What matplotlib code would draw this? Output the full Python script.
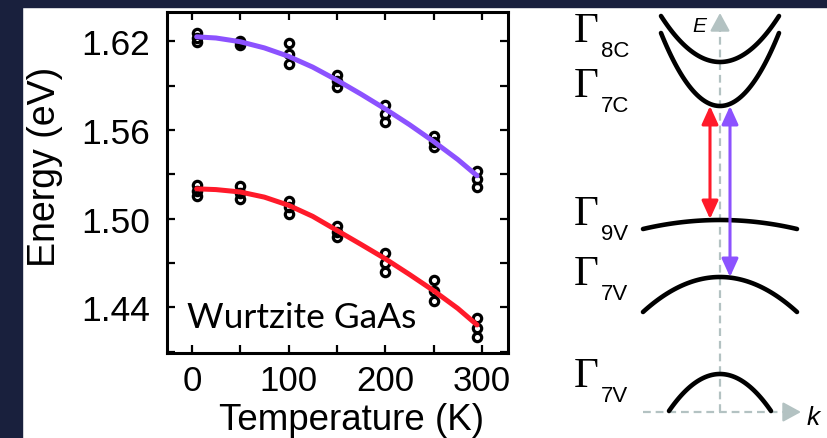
import numpy as np
import matplotlib
matplotlib.use("Agg")
import matplotlib.pyplot as plt
from matplotlib.patches import Rectangle, FancyArrowPatch
from matplotlib.ticker import MultipleLocator

plt.rcParams.update({"font.family": "Liberation Sans"})

# measured points: three runs at each temperature
temperature = [5, 50, 100, 150, 200, 250, 295]
upper_runs = [
    [1.6253, 1.6205, 1.6185, 1.5969, 1.5766, 1.5556, 1.5319],
    [1.6222, 1.6192, 1.6114, 1.5928, 1.5708, 1.5519, 1.5265],
    [1.6192, 1.6178, 1.6043, 1.5888, 1.5651, 1.5482, 1.5211],
]
lower_runs = [
    [1.5225, 1.5218, 1.5116, 1.4947, 1.4764, 1.4582, 1.4325],
    [1.5188, 1.5170, 1.5075, 1.4910, 1.4700, 1.4510, 1.4260],
    [1.5150, 1.5130, 1.5028, 1.4873, 1.4636, 1.4440, 1.4196],
]

# fitted curves
fit_temperature = [5, 25, 50, 75, 100, 125, 150, 175, 200, 225, 250, 275, 295]
upper_fit = [1.6230, 1.6222, 1.6197, 1.6155, 1.6098, 1.6025, 1.5937,
             1.5842, 1.5742, 1.5636, 1.5522, 1.5400, 1.5290]
lower_fit = [1.5201, 1.5196, 1.5180, 1.5145, 1.5090, 1.5015, 1.4920,
             1.4825, 1.4728, 1.4622, 1.4512, 1.4392, 1.4280]

# band schematic (pixel units): label, apex, half width, bend (+ up-opening)
band_names = ["8C", "7C", "9V", "7V", "7V"]
band_apex = [63, 107, 221, 278, 375]
band_half_width = [59, 59, 77, 77, 51]
band_bend = [46, 73, -9, -35, -37]
label_baseline = [42, 97, 225, 285, 387]

NAVY = "#19203d"
PURPLE = "#8c52ff"
RED = "#ff1a2a"
GREY = "#b3c2c2"

W, H = 828, 439
fig = plt.figure(figsize=(W / 100, H / 100), dpi=100)
fig.patch.set_facecolor("white")
fig.add_artist(Rectangle((0, 0), 22 / W, 1, transform=fig.transFigure,
                         color=NAVY, zorder=-5))
fig.add_artist(Rectangle((0, 1 - 8 / H), 1, 8 / H, transform=fig.transFigure,
                         color=NAVY, zorder=-5))

# --- left panel -------------------------------------------------------------
ax = fig.add_axes([166.7 / W, 1 - 354 / H, 341.3 / W, 341.3 / H])
for run in upper_runs + lower_runs:
    ax.plot(temperature, run, "o", ms=6, mfc="none", mec="black",
            mew=2.3, zorder=2)
ax.plot(fit_temperature, upper_fit, color=PURPLE, lw=3.6,
        solid_capstyle="round", zorder=3)
ax.plot(fit_temperature, lower_fit, color=RED, lw=3.6,
        solid_capstyle="round", zorder=3)

ax.set_xlim(-26, 327)
ax.set_ylim(1.409, 1.640)
ax.xaxis.set_major_locator(MultipleLocator(100))
ax.xaxis.set_minor_locator(MultipleLocator(50))
ax.yaxis.set_major_locator(MultipleLocator(0.06))
ax.yaxis.set_minor_locator(MultipleLocator(0.03))
ax.yaxis.set_major_formatter(plt.FormatStrFormatter("%.2f"))
ax.tick_params(which="both", direction="in", top=True, right=True,
               length=6, width=1.6)
ax.tick_params(axis="x", labelsize=25, pad=8)
ax.tick_params(axis="y", labelsize=25.5, pad=12)
for s in ax.spines.values():
    s.set_linewidth(2.2)

ax.text(0.06, 0.076, "Wurtzite GaAs", transform=ax.transAxes,
        fontsize=25.5, family="Lato", va="baseline", ha="left")
fig.text(45 / W, 1 - 167 / H, "Energy (eV)", rotation=90, fontsize=27,
         ha="center", va="center")
fig.text(352 / W, 1 - 430 / H, "Temperature (K)", fontsize=26.5,
         ha="center", va="baseline")

# --- right panel: band diagram ---------------------------------------------
bx = fig.add_axes([540 / W, 0, 288 / W, 1])
bx.set_xlim(540, 828)
bx.set_ylim(H, 0)
bx.axis("off")

xc = 720
# dashed E and k axes
bx.plot([xc, xc], [413, 28], color=GREY, lw=1.6, ls=(0, (3.5, 2.2)), zorder=1)
bx.add_patch(FancyArrowPatch((xc, 30), (xc, 14), arrowstyle="-|>,head_length=0.55,head_width=0.3",
                             mutation_scale=20, color=GREY, lw=1.6,
                             shrinkA=0, shrinkB=0, zorder=1))
bx.plot([643, 786], [413, 413], color=GREY, lw=1.6, ls=(0, (3.5, 2.2)), zorder=1)
bx.add_patch(FancyArrowPatch((784, 413), (801, 413), arrowstyle="-|>,head_length=0.55,head_width=0.3",
                             mutation_scale=20, color=GREY, lw=1.6,
                             shrinkA=0, shrinkB=0, zorder=1))
bx.text(692, 32, "E", fontsize=15, style="italic", va="baseline", ha="left")
bx.text(807, 425, "k", fontsize=19, style="italic", va="baseline", ha="left")

for name, apex, hw, bend, base in zip(band_names, band_apex, band_half_width,
                                      band_bend, label_baseline):
    kx = np.linspace(-1, 1, 60)
    bx.plot(xc + hw * kx, apex - bend * kx ** 2, color="black", lw=3.3,
            solid_capstyle="round", zorder=3)
    bx.text(574, base, "Γ", fontsize=31, family="Liberation Serif",
            va="baseline", ha="left")
    bx.text(601, base + 15, name, fontsize=16, va="baseline", ha="left")

# transition arrows
bx.add_patch(FancyArrowPatch((710, band_apex[1]), (710, band_apex[2] - 1),
                             arrowstyle="<|-|>,head_length=0.55,head_width=0.25",
                             mutation_scale=20, color=RED, lw=2.2,
                             shrinkA=0, shrinkB=0, zorder=4))
bx.add_patch(FancyArrowPatch((730, band_apex[1]), (730, band_apex[3]),
                             arrowstyle="<|-|>,head_length=0.55,head_width=0.25",
                             mutation_scale=20, color=PURPLE, lw=2.2,
                             shrinkA=0, shrinkB=0, zorder=4))

fig.savefig("out.png", dpi=100)
